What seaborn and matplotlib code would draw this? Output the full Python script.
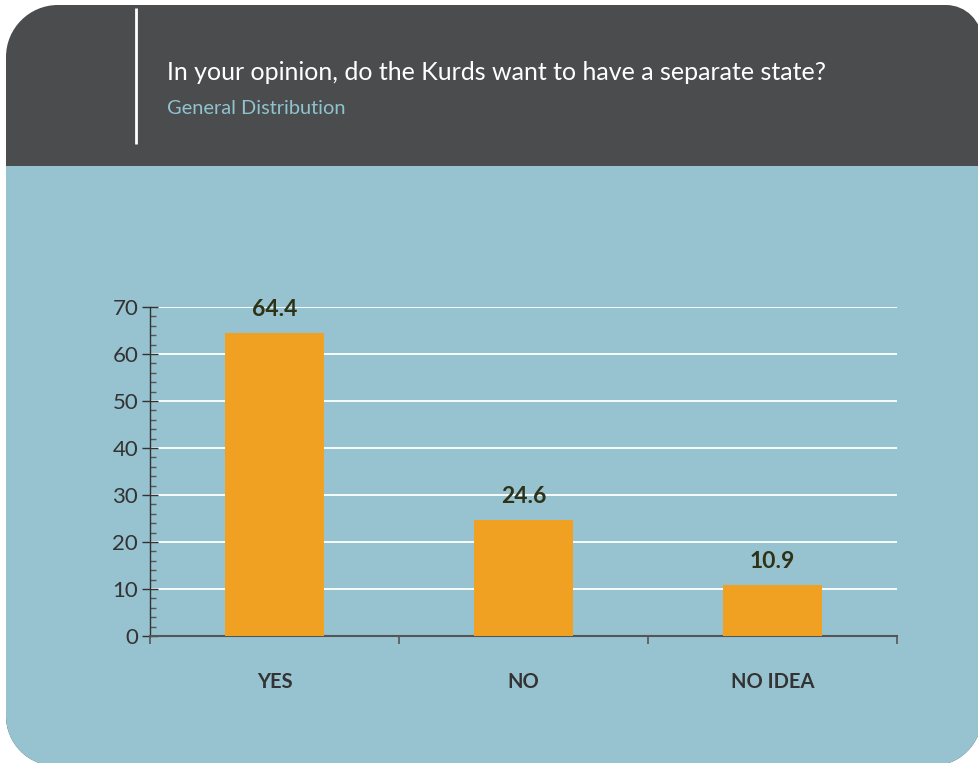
import matplotlib
matplotlib.use("Agg")
import matplotlib.pyplot as plt
import seaborn as sns
import numpy as np
import pandas as pd
from matplotlib.path import Path
from matplotlib.patches import PathPatch, Rectangle
from matplotlib.ticker import MultipleLocator, FixedLocator

categories = ["YES", "NO", "NO IDEA"]
values = [64.4, 24.6, 10.9]
yticks = [0, 10, 20, 30, 40, 50, 60, 70]
title = "In your opinion, do the Kurds want to have a separate state?"
subtitle = "General Distribution"

W, H = 979, 763
sns.set_theme(style="white")
FONT = "Lato"
plt.rcParams["font.family"] = [FONT, "DejaVu Sans"]

fig = plt.figure(figsize=(W / 100, H / 100), dpi=100)
fig.patch.set_facecolor("white")

# background card
bg = fig.add_axes([0, 0, 1, 1], zorder=0)
bg.set_xlim(0, W)
bg.set_ylim(H, 0)
bg.axis("off")


def rounded_path(x0, y0, x1, y1, rtl, rtr, rbr, rbl):
    k = 0.5523
    verts = [(x0 + rtl, y0), (x1 - rtr, y0),
             (x1 - rtr + k * rtr, y0), (x1, y0 + rtr - k * rtr), (x1, y0 + rtr),
             (x1, y1 - rbr),
             (x1, y1 - rbr + k * rbr), (x1 - rbr + k * rbr, y1), (x1 - rbr, y1),
             (x0 + rbl, y1),
             (x0 + rbl - k * rbl, y1), (x0, y1 - rbl + k * rbl), (x0, y1 - rbl),
             (x0, y0 + rtl),
             (x0, y0 + rtl - k * rtl), (x0 + rtl - k * rtl, y0), (x0 + rtl, y0),
             (x0 + rtl, y0)]
    codes = [Path.MOVETO, Path.LINETO,
             Path.CURVE4, Path.CURVE4, Path.CURVE4,
             Path.LINETO,
             Path.CURVE4, Path.CURVE4, Path.CURVE4,
             Path.LINETO,
             Path.CURVE4, Path.CURVE4, Path.CURVE4,
             Path.LINETO,
             Path.CURVE4, Path.CURVE4, Path.CURVE4,
             Path.CLOSEPOLY]
    return Path(verts, codes)


card_path = rounded_path(6, 5, 982, 766, 52, 36, 50, 50)
card = PathPatch(card_path, facecolor="#4b4c4e", edgecolor="none")
bg.add_patch(card)
blue = Rectangle((0, 166), W + 10, H, facecolor="#97c2cf", edgecolor="none")
bg.add_patch(blue)
blue.set_clip_path(card)
bg.plot([136, 136], [8, 144], color="white", lw=2, solid_capstyle="butt")

fig.text(167 / W, 1 - 73 / H, title, color="white", fontsize=18,
         va="center", ha="left")
fig.text(167 / W, 1 - 109 / H, subtitle, color="#8fc3cf", fontsize=14.4,
         va="center", ha="left")

# chart
left, right = 150 / W, 897 / W
bottom, top = 1 - 636 / H, 1 - 307 / H
ax = fig.add_axes([left, bottom, right - left, top - bottom], zorder=2)
ax.patch.set_alpha(0)

df = pd.DataFrame({"cat": categories, "val": values})
sns.barplot(data=df, x="cat", y="val", color="#f0a121", width=0.4,
            saturation=1, ax=ax, zorder=3, edgecolor="none")
ax.set_xlim(-0.5, 2.5)
ax.set_ylim(0, 70)
ax.set_xlabel("")
ax.set_ylabel("")

ax.set_yticks(yticks)
ax.yaxis.set_minor_locator(MultipleLocator(2))
ax.grid(axis="y", color="white", lw=1.3, zorder=1)
ax.tick_params(axis="y", which="major", direction="inout", length=11, width=1,
               color="#333333", labelsize=16, labelcolor="#333333", pad=3, left=True)
ax.tick_params(axis="y", which="minor", direction="in", length=4, width=1,
               color="#555555", left=True)

ax.set_xticks(range(len(categories)))
ax.set_xticklabels(categories, fontweight="bold", fontsize=14.5, color="#333333")
ax.xaxis.set_minor_locator(FixedLocator([-0.5, 0.5, 1.5, 2.5]))
ax.tick_params(axis="x", which="major", length=0, pad=26)
ax.tick_params(axis="x", which="minor", direction="out", length=6, width=1.2,
               color="#555555", bottom=True)

for s in ["top", "right"]:
    ax.spines[s].set_visible(False)
ax.spines["left"].set_color("#333333")
ax.spines["left"].set_linewidth(1)
ax.spines["bottom"].set_color("#555555")
ax.spines["bottom"].set_linewidth(1.5)

for i, v in enumerate(values):
    ax.annotate(f"{v:.1f}", (i, v), xytext=(0, 17), textcoords="offset points",
                ha="center", va="center", fontsize=16.5, fontweight="bold",
                color="#2e3317")

fig.savefig("out.png", dpi=100, facecolor="white")
